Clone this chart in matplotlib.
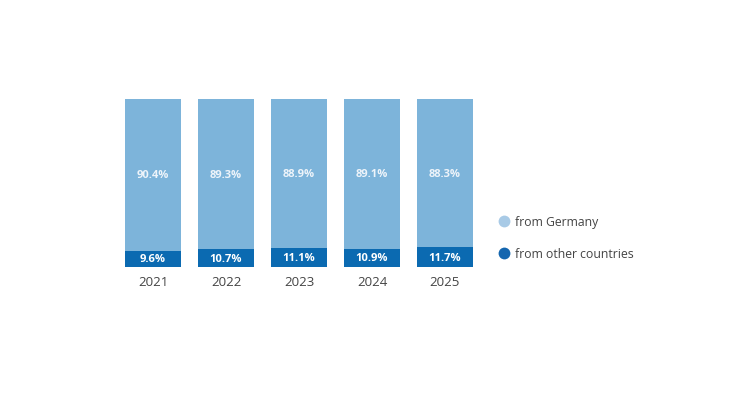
import matplotlib.pyplot as plt
from matplotlib.lines import Line2D

# Data
years = ["2021", "2022", "2023", "2024", "2025"]
from_other = [9.6, 10.7, 11.1, 10.9, 11.7]
from_germany = [90.4, 89.3, 88.9, 89.1, 88.3]

light = "#7DB4DA"
dark = "#0B6AB1"
text_gray = "#444444"

plt.rcParams["font.family"] = ["Open Sans", "DejaVu Sans"]

fig = plt.figure(figsize=(7.33, 4.14), dpi=100)
ax = fig.add_axes([116.5 / 733, (414 - 268) / 414, 365 / 733, 168 / 414])

x = list(range(len(years)))
ax.bar(x, from_other, width=0.78, color=dark)
ax.bar(x, from_germany, width=0.78, bottom=from_other, color=light)

for i in x:
    ax.text(i, from_other[i] / 2, f"{from_other[i]}%", ha="center", va="center",
            color="white", fontsize=8, fontweight="bold")
    ax.text(i, from_other[i] + from_germany[i] / 2, f"{from_germany[i]}%",
            ha="center", va="center", color="#EEF4FA", fontsize=8, fontweight="bold")

ax.set_xlim(-0.5, 4.5)
ax.set_ylim(0, 100)
ax.set_xticks(x)
ax.set_xticklabels(years, fontsize=9.5, color=text_gray)
ax.tick_params(axis="x", length=0, pad=6)
ax.set_yticks([])
for s in ax.spines.values():
    s.set_visible(False)

handles = [
    Line2D([], [], marker="o", linestyle="none", markersize=8.5,
           markerfacecolor="#A8CAE6", markeredgecolor="none"),
    Line2D([], [], marker="o", linestyle="none", markersize=8.5,
           markerfacecolor="#1466AF", markeredgecolor="none"),
]
fig.legend(handles, ["from Germany", "from other countries"],
           loc="center left", bbox_to_anchor=(486 / 733, 1 - 238.5 / 414),
           frameon=False, fontsize=8.8, labelcolor=text_gray,
           handletextpad=0.3, labelspacing=1.55, handlelength=1.2)

fig.savefig("out.png", dpi=100, facecolor="white")
